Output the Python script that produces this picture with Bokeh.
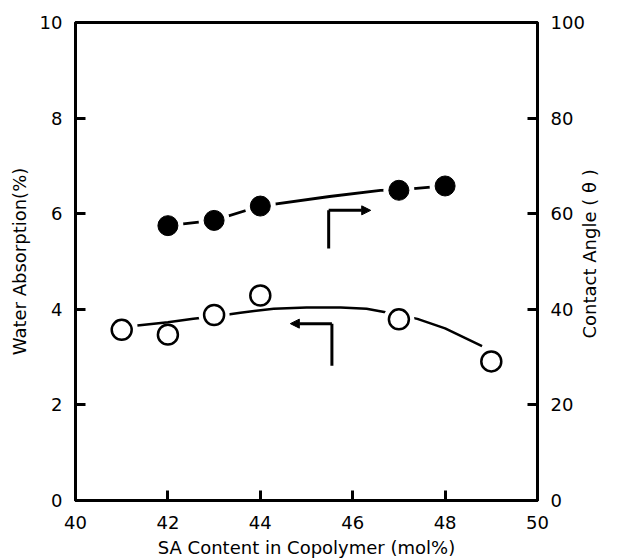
import math
from bokeh.plotting import figure
from bokeh.models import Range1d, LinearAxis, FixedTicker, Arrow, NormalHead
from bokeh.embed import file_html
from bokeh.resources import INLINE

# --- data ---
sa_water = [41, 42, 43, 44, 47, 49]
water_absorption = [3.57, 3.47, 3.88, 4.29, 3.79, 2.91]
water_on_curve = [True, False, True, False, True, True]

water_curve_x = [41.34, 42.0, 42.55, 43.0, 43.57, 44.29, 45.0, 45.74, 46.3, 46.71, 47.0, 47.4, 48.0, 48.8]
water_curve_y = [3.66, 3.73, 3.80, 3.85, 3.93, 4.01, 4.04, 4.04, 4.01, 3.94, 3.88, 3.80, 3.60, 3.23]

sa_angle = [42, 43, 44, 47, 48]
contact_angle = [57.5, 58.6, 61.6, 64.9, 65.8]
angle_curve_x = [42, 43, 44, 45.5, 46.6, 47, 48]
angle_curve_y = [57.5, 58.6, 61.6, 63.6, 64.9, 65.0, 65.8]

x_ticks = [40, 42, 44, 46, 48, 50]
water_ticks = [0, 2, 4, 6, 8, 10]
angle_ticks = [0, 20, 40, 60, 80, 100]

# annotation arrows (axis indicators)
angle_arrow_x = [45.48, 46.39]   # vertical stem x, head x
angle_arrow_y = [52.7, 60.7]     # stem bottom, arrow level
water_arrow_x = [45.55, 44.65]
water_arrow_y = [2.82, 3.70]

FONT = "DejaVu Sans"
right_title = "Contact Angle ( θ )"
right_title_anchor = 33.9   # where the rotated title's lower end sits on the angle scale

p = figure(width=617, height=560, output_backend="svg", toolbar_location=None,
           x_range=Range1d(40, 50), y_range=Range1d(0, 10),
           min_border_left=75, min_border_right=80, min_border_top=22, min_border_bottom=60)
p.extra_y_ranges = {"angle": Range1d(0, 100)}
p.grid.visible = False
p.outline_line_color = "black"
p.outline_line_width = 3
p.background_fill_color = "white"
p.border_fill_color = "white"

right_axis = LinearAxis(y_range_name="angle")
p.add_layout(right_axis, "right")

p.xaxis.ticker = FixedTicker(ticks=x_ticks)
p.yaxis[0].ticker = FixedTicker(ticks=water_ticks)
right_axis.ticker = FixedTicker(ticks=angle_ticks)

p.xaxis.axis_label = "SA Content in Copolymer (mol%)"
p.yaxis[0].axis_label = "Water Absorption(%)"

for ax in [p.xaxis[0], p.yaxis[0], right_axis]:
    ax.axis_line_width = 3
    ax.axis_line_color = "black"
    ax.major_tick_in = 10
    ax.major_tick_out = 0
    ax.major_tick_line_width = 3
    ax.minor_tick_line_color = None
    ax.major_label_text_font = FONT
    ax.major_label_text_font_size = "18px"
    ax.major_label_text_color = "black"
    ax.axis_label_text_font = FONT
    ax.axis_label_text_font_size = "18px"
    ax.axis_label_text_font_style = "normal"
    ax.axis_label_text_color = "black"
    ax.major_label_standoff = 13
    ax.axis_label_standoff = 7

p.xaxis[0].major_label_standoff = 15
p.xaxis[0].axis_label_standoff = 5
right_axis.axis_label_standoff = 0

# right axis title, reading bottom-to-top like the left one (as a rotated label of a bare axis)
title_axis = LinearAxis(y_range_name="angle", ticker=FixedTicker(ticks=[right_title_anchor]),
                        major_label_overrides={right_title_anchor: right_title},
                        major_label_orientation=math.pi / 2,
                        axis_line_color=None, major_tick_line_color=None, minor_tick_line_color=None,
                        major_tick_in=0, major_tick_out=0, major_label_standoff=2,
                        axis_label_standoff=0,
                        major_label_text_font=FONT, major_label_text_font_size="18px",
                        major_label_text_color="black")
p.add_layout(title_axis, "right")

# contact angle (filled) series
p.line(angle_curve_x, angle_curve_y, y_range_name="angle", line_color="black", line_width=2.8)
p.scatter(sa_angle, contact_angle, y_range_name="angle", size=31, fill_color="white", line_color=None)
p.scatter(sa_angle, contact_angle, y_range_name="angle", size=20, fill_color="black", line_color="black")

# water absorption (open) series
p.line(water_curve_x, water_curve_y, line_color="black", line_width=2.5)
hx = [x for x, f in zip(sa_water, water_on_curve) if f]
hy = [y for y, f in zip(water_absorption, water_on_curve) if f]
p.scatter(hx, hy, size=31, fill_color="white", line_color=None)
p.scatter(sa_water, water_absorption, size=20, fill_color="white", line_color="black", line_width=2.5)

# indicator arrows
p.segment(x0=[angle_arrow_x[0]], y0=[angle_arrow_y[0]], x1=[angle_arrow_x[0]], y1=[angle_arrow_y[1]],
          y_range_name="angle", line_color="black", line_width=3)
p.add_layout(Arrow(end=NormalHead(size=9, fill_color="black", line_color="black"),
                   x_start=angle_arrow_x[0], y_start=angle_arrow_y[1],
                   x_end=angle_arrow_x[1], y_end=angle_arrow_y[1],
                   y_range_name="angle", line_width=3, line_color="black"))
p.segment(x0=[water_arrow_x[0]], y0=[water_arrow_y[0]], x1=[water_arrow_x[0]], y1=[water_arrow_y[1]],
          line_color="black", line_width=3)
p.add_layout(Arrow(end=NormalHead(size=9, fill_color="black", line_color="black"),
                   x_start=water_arrow_x[0], y_start=water_arrow_y[1],
                   x_end=water_arrow_x[1], y_end=water_arrow_y[1],
                   line_width=3, line_color="black"))

open("out.html", "w").write(file_html(p, INLINE))
